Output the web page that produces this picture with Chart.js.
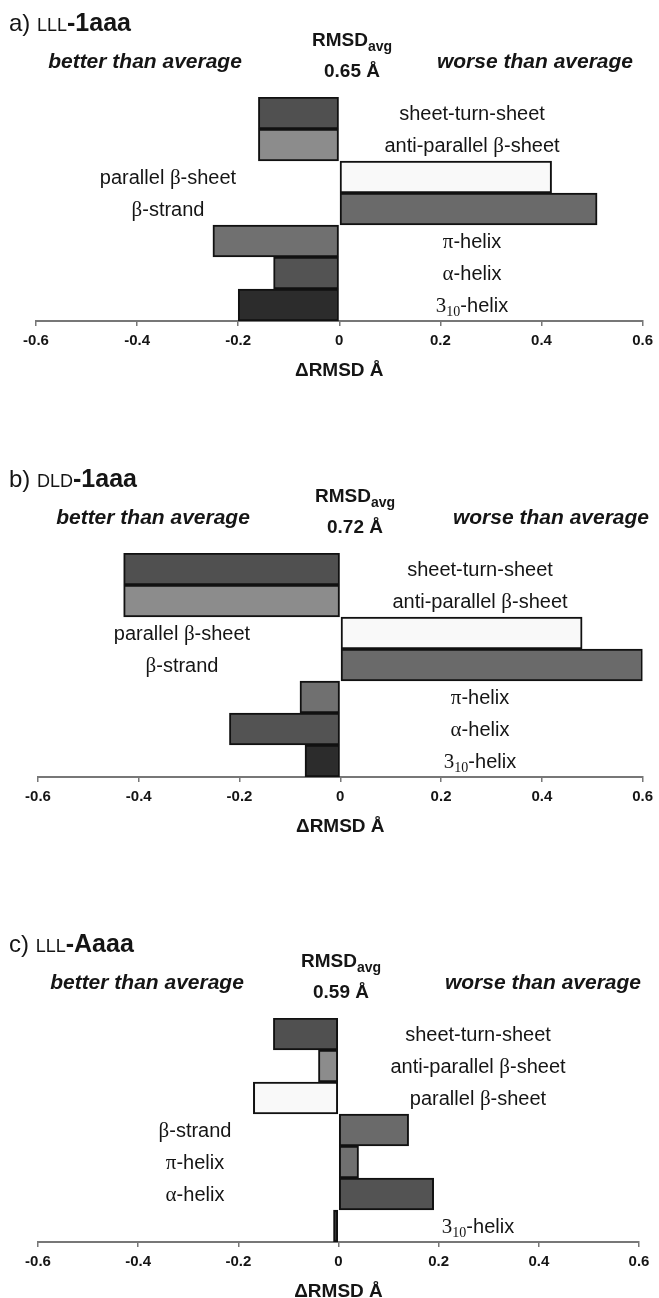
<!DOCTYPE html>
<html>
<head>
<meta charset="utf-8">
<script src="https://cdn.jsdelivr.net/npm/chart.js@4"></script>
<style>
  body { margin: 0; background: #fff; }
  #page { position: relative; width: 659px; height: 1298px; overflow: hidden; background: #fff; }
  .panel { position: absolute; left: 0; width: 659px; height: 420px; }
</style>
</head>
<body>
<div id="page">
  <div class="panel" style="top:0px"><canvas id="chartA" width="659" height="420"></canvas></div>
  <div class="panel" style="top:456px"><canvas id="chartB" width="659" height="420"></canvas></div>
  <div class="panel" style="top:921px"><canvas id="chartC" width="659" height="420"></canvas></div>
</div>
<script>
// categories, top to bottom
const categories = ['sheet-turn-sheet', 'anti-parallel β-sheet', 'parallel β-sheet', 'β-strand', 'π-helix', 'α-helix', '3₁₀-helix'];
const tickLabels = ['-0.6', '-0.4', '-0.2', '0', '0.2', '0.4', '0.6'];

// ΔRMSD values (Å) per panel
const lll1aaa = [-0.16, -0.16, 0.42, 0.51, -0.25, -0.13, -0.20];
const dld1aaa = [-0.43, -0.43, 0.48, 0.60, -0.08, -0.22, -0.07];
const lllAaaa = [-0.13, -0.04, -0.17, 0.14, 0.04, 0.19, -0.01];

const rmsdAvg = ['0.65 Å', '0.72 Å', '0.59 Å'];
const barColors = ['#505050', '#8c8c8c', '#f9f9f9', '#6a6a6a', '#707070', '#535353', '#2c2c2c'];

const SANS = '"Liberation Sans", Arial, sans-serif';
const SERIF = '"Liberation Serif", "Times New Roman", serif';
const INK = '#151515';

function drawRich(ctx, segs, x, y, align) {
  let w = 0;
  segs.forEach(s => { ctx.font = s.f; w += ctx.measureText(s.t).width; });
  let cx = align === 'center' ? x - w / 2 : x;
  segs.forEach(s => {
    ctx.font = s.f;
    ctx.fillText(s.t, cx, y + (s.dy || 0));
    cx += ctx.measureText(s.t).width;
  });
}

function labelSegs(str) {
  const out = [];
  for (const ch of str) {
    let seg;
    if ('βπα'.includes(ch)) seg = { t: ch, f: '21px ' + SERIF };
    else if (ch === '₁' || ch === '₀') seg = { t: ch === '₁' ? '1' : '0', f: '14px ' + SERIF, dy: 4 };
    else if (ch === '3' && out.length === 0) seg = { t: ch, f: '21px ' + SERIF };
    else seg = { t: ch, f: '20px ' + SANS };
    const last = out[out.length - 1];
    if (last && last.f === seg.f && (last.dy || 0) === (seg.dy || 0)) last.t += seg.t;
    else out.push(seg);
  }
  return out;
}

const panels = [
  { id: 'chartA', letter: 'a) ', prefix: 'LLL', name: '-1aaa', values: lll1aaa, rmsd: rmsdAvg[0],
    padL: 36, padR: 16, labL: 168, labR: 472, headX: 352, betterX: 145, worseX: 535 },
  { id: 'chartB', letter: 'b) ', prefix: 'DLD', name: '-1aaa', values: dld1aaa, rmsd: rmsdAvg[1],
    padL: 38, padR: 11, labL: 182, labR: 480, headX: 355, betterX: 153, worseX: 551 },
  { id: 'chartC', letter: 'c) ', prefix: 'LLL', name: '-Aaaa', values: lllAaaa, rmsd: rmsdAvg[2],
    padL: 38, padR: 20, labL: 195, labR: 478, headX: 341, betterX: 147, worseX: 543 }
];

function textPlugin(p) {
  return {
    id: 'panelText',
    afterDraw(chart) {
      const ctx = chart.ctx;
      const xs = chart.scales.x, ys = chart.scales.y;
      ctx.save();
      ctx.fillStyle = INK;
      ctx.textBaseline = 'alphabetic';
      ctx.textAlign = 'left';
      // panel title
      drawRich(ctx, [
        { t: p.letter, f: '24px ' + SANS },
        { t: p.prefix, f: '18px ' + SANS },
        { t: p.name, f: 'bold 25px ' + SANS }
      ], 9, 31, 'left');
      // header
      drawRich(ctx, [
        { t: 'RMSD', f: 'bold 19px ' + SANS },
        { t: 'avg', f: 'bold 14px ' + SANS, dy: 5 }
      ], p.headX, 46, 'center');
      drawRich(ctx, [{ t: p.rmsd, f: 'bold 19px ' + SANS }], p.headX, 77, 'center');
      drawRich(ctx, [{ t: 'better than average', f: 'italic bold 21px ' + SANS }], p.betterX, 68, 'center');
      drawRich(ctx, [{ t: 'worse than average', f: 'italic bold 21px ' + SANS }], p.worseX, 68, 'center');
      // category labels, on the side opposite the bar
      categories.forEach((c, i) => {
        const y = ys.getPixelForValue(i) + 7;
        const x = p.values[i] < 0 ? p.labR : p.labL;
        drawRich(ctx, labelSegs(c), x, y, 'center');
      });
      // axis title
      drawRich(ctx, [{ t: 'ΔRMSD Å', f: 'bold 19px ' + SANS }],
        (xs.getPixelForValue(-0.6) + xs.getPixelForValue(0.6)) / 2, chart.chartArea.bottom + 55, 'center');
      ctx.restore();
    }
  };
}

panels.forEach(p => {
  new Chart(document.getElementById(p.id), {
    type: 'bar',
    data: {
      labels: categories,
      datasets: [{
        data: p.values,
        backgroundColor: barColors,
        borderColor: '#111',
        borderWidth: 2,
        borderSkipped: false,
        barPercentage: 1,
        categoryPercentage: 1
      }]
    },
    options: {
      indexAxis: 'y',
      responsive: false,
      animation: false,
      layout: { padding: { left: p.padL, right: p.padR, top: 97, bottom: 0 } },
      plugins: { legend: { display: false }, tooltip: { enabled: false } },
      scales: {
        x: {
          min: -0.6,
          max: 0.6,
          ticks: {
            stepSize: 0.2,
            autoSkip: false,
            maxRotation: 0,
            padding: 6,
            color: INK,
            font: { family: SANS, weight: 'bold', size: 15 },
            callback: (v, i) => tickLabels[i]
          },
          grid: { drawOnChartArea: false, tickLength: 5, color: '#777', lineWidth: 1.5 },
          border: { color: '#777', width: 2 },
          afterFit: s => { s.height = 99; }
        },
        y: { display: false }
      }
    },
    plugins: [textPlugin(p)]
  });
});
</script>
</body>
</html>
